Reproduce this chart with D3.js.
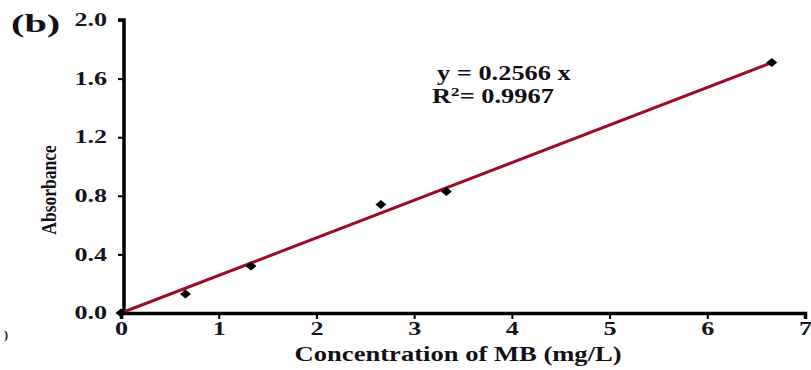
<!DOCTYPE html>
<html>
<head>
<meta charset="utf-8">
<script src="https://cdn.jsdelivr.net/npm/d3@7"></script>
<style>
  body { margin: 0; background: #fff; }
</style>
</head>
<body>
<svg id="chart" width="811" height="370"></svg>
<script>
// data
const concentration = [0, 0.66, 1.33, 2.66, 3.33, 6.66];
const absorbance = [0, 0.13, 0.32, 0.74, 0.83, 1.71];
const slope = 0.2566;
const xTicks = [0, 1, 2, 3, 4, 5, 6, 7];
const yTicks = [0, 0.4, 0.8, 1.2, 1.6, 2.0];

const FONT = '"Liberation Serif", "Times New Roman", serif';
const svg = d3.select('#chart');

const margin = {top: 20, right: 6, bottom: 57, left: 123};
const width = 811, height = 370;

const x = d3.scaleLinear()
  .domain([0, 7])
  .range([margin.left - 2, width - margin.right]);

const y = d3.scaleLinear()
  .domain([0, 2])
  .range([height - margin.bottom, margin.top]);

// axes
const yAxis = svg.append('g')
  .attr('transform', `translate(${x(0) + 3}, 0)`)
  .call(d3.axisLeft(y).tickValues(yTicks).tickFormat(d3.format('.1f')).tickSize(6));

const xAxis = svg.append('g')
  .attr('transform', `translate(0, ${y(0)})`)
  .call(d3.axisBottom(x).tickValues(xTicks).tickFormat(d3.format('d')).tickSize(6));

[xAxis, yAxis].forEach(a => {
  a.attr('font-family', FONT);
  a.select('.domain').attr('stroke', '#000').attr('stroke-width', 3.5);
  a.selectAll('.tick line').attr('stroke', '#000').attr('stroke-width', 2);
  a.selectAll('.tick text')
    .attr('fill', '#151520')
    .attr('font-weight', 'bold')
    .attr('font-size', 18);
});
yAxis.select('.domain').attr('d', `M-6,${y(2)}H0V${y(0)}`);
// the reference text is stretched sideways, so widen the labels
yAxis.selectAll('.tick text')
  .attr('x', -17 / 1.45)
  .attr('transform', 'scale(1.45,1)');
xAxis.selectAll('.tick text')
  .attr('y', 9)
  .attr('transform', 'scale(1.45,1)');

// fitted line
const fitX = [0, d3.max(concentration)];
svg.append('path')
  .datum(fitX)
  .attr('fill', 'none')
  .attr('stroke', '#9e0b27')
  .attr('stroke-width', 3)
  .attr('d', d3.line().x(d => x(d)).y(d => y(slope * d)));

// data points, squat diamonds
const diamond = 'M-5.5,0L0,-4.5L5.5,0L0,4.5Z';
svg.selectAll('path.pt')
    .data(concentration)
  .join('path')
    .attr('class', 'pt')
    .attr('transform', (d, i) => `translate(${x(d)}, ${y(absorbance[i])})`)
    .attr('d', diamond)
    .attr('fill', '#000');

// labels
function label(txt, tx, ty, size, sx, rot) {
  return svg.append('text')
    .attr('transform', `translate(${tx}, ${ty}) scale(${sx},1)` + (rot ? ` rotate(${rot})` : ''))
    .attr('font-family', FONT)
    .attr('font-weight', 'bold')
    .attr('font-size', size)
    .attr('fill', '#141018')
    .text(txt);
}

label('Concentration of MB (mg/L)', x(3.45), y(0) + 48, 20, 1.33).attr('text-anchor', 'middle');
label('Absorbance', 56, 190, 17.5, 1.25, -90).attr('text-anchor', 'middle');
label('(b)', 11, 32, 26, 1.55);
label(`y = ${slope} x`, 437, 80, 20, 1.32);

const r2 = label('R', 432, 103, 20, 1.32);
r2.append('tspan').attr('font-size', 13).attr('dy', -7).text('2');
r2.append('tspan').attr('dy', 7).text('= 0.9967');

label(')', 4, 339, 12, 1);
</script>
</body>
</html>
